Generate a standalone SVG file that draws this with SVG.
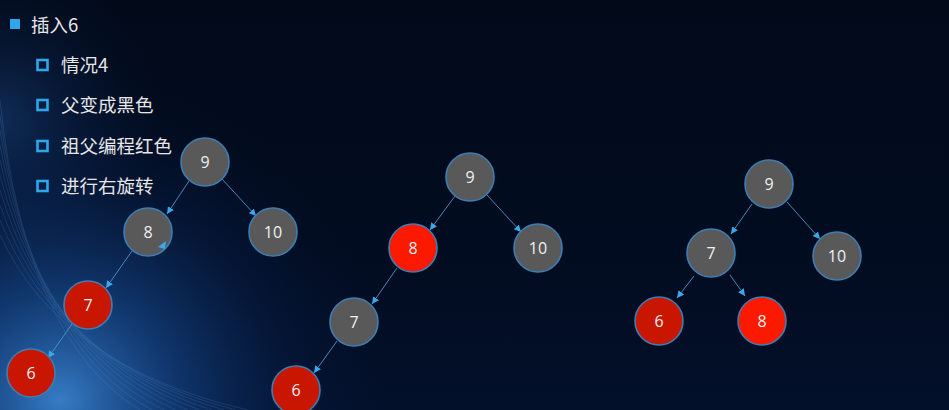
<svg xmlns="http://www.w3.org/2000/svg" width="949" height="410" viewBox="0 0 949 410">
<defs>
<linearGradient id="bg" x1="0" y1="0" x2="0" y2="1">
<stop offset="0" stop-color="#020a1a"/>
<stop offset="0.6" stop-color="#020c20"/>
<stop offset="1" stop-color="#03102a"/>
</linearGradient>
<radialGradient id="glow" cx="60" cy="400" r="330" gradientUnits="userSpaceOnUse">
<stop offset="0" stop-color="#3f8fe0" stop-opacity="0.85"/>
<stop offset="0.35" stop-color="#1c5cb0" stop-opacity="0.5"/>
<stop offset="0.7" stop-color="#0c3070" stop-opacity="0.2"/>
<stop offset="1" stop-color="#061a40" stop-opacity="0"/>
</radialGradient>
<radialGradient id="glow2" cx="0" cy="120" r="160" gradientUnits="userSpaceOnUse">
<stop offset="0" stop-color="#1d4f90" stop-opacity="0.5"/>
<stop offset="1" stop-color="#061a40" stop-opacity="0"/>
</radialGradient>
<marker id="ah" viewBox="0 0 10 10" refX="10" refY="5" markerWidth="7" markerHeight="7" markerUnits="userSpaceOnUse" orient="auto">
<path d="M0,0 L10,5 L0,10 z" fill="#3aa9ec"/>
</marker>
<style>
.edge{stroke:#4f93cc;stroke-width:0.9;fill:none;marker-end:url(#ah)}
.node circle{stroke:#3c7eb4;stroke-width:1.6}
.blk circle{fill:#595959}
.red circle{fill:#c81600}
.red2 circle{fill:#fb1a00}
.node text{font-family:"Open Sans","Liberation Sans",sans-serif;font-size:16px;fill:#f0f0f0;text-anchor:middle}
.t{font-family:"Noto Sans CJK SC","Noto Sans",sans-serif;font-size:18.5px;fill:#e6e6e6}
.sq{fill:none;stroke:#2ea6ec;stroke-width:2.6}
.streak{fill:none;stroke:#7ab8f4;stroke-width:0.8}
</style>
</defs>
<rect width="949" height="410" fill="url(#bg)"/>
<rect width="949" height="410" fill="url(#glow2)"/>
<rect width="949" height="410" fill="url(#glow)"/>
<g opacity="0.18">
<path class="streak" d="M0,100 Q25,340 140,410"/>
<path class="streak" d="M0,115 Q29,343 152,410"/>
<path class="streak" d="M0,130 Q33,346 164,410"/>
<path class="streak" d="M0,145 Q37,349 176,410"/>
<path class="streak" d="M0,160 Q41,352 188,410"/>
<path class="streak" d="M0,175 Q45,355 200,410"/>
<path class="streak" d="M0,190 Q49,358 212,410"/>
<path class="streak" d="M0,205 Q53,361 224,410"/>
<path class="streak" d="M0,220 Q57,364 236,410"/>
<path class="streak" d="M0,235 Q61,367 248,410"/>
</g>

<g id="bullets">
<rect x="10" y="19" width="10" height="10" fill="#2ea6ec"/>
<text class="t" x="31" y="32">插入6</text>
<rect class="sq" x="37.5" y="60" width="10" height="10"/>
<text class="t" x="61" y="72">情况4</text>
<rect class="sq" x="37.5" y="100" width="10" height="10"/>
<text class="t" x="61" y="112">父变成黑色</text>
<rect class="sq" x="37.5" y="141" width="10" height="10"/>
<text class="t" x="61" y="153">祖父编程红色</text>
<rect class="sq" x="37.5" y="181" width="10" height="10"/>
<text class="t" x="61" y="193">进行右旋转</text>
</g>

<g id="connectors">
<line class="edge" x1="189" y1="181" x2="167" y2="214"/>
<line class="edge" x1="222" y1="179" x2="256" y2="216"/>
<line class="edge" x1="132" y1="251" x2="106" y2="288"/>
<line class="edge" x1="72" y1="324" x2="48" y2="358"/>
<line class="edge" x1="455" y1="196" x2="430" y2="230"/>
<line class="edge" x1="487" y1="195" x2="521" y2="232"/>
<line class="edge" x1="397" y1="268" x2="372" y2="304"/>
<line class="edge" x1="337" y1="341" x2="314" y2="373"/>
<line class="edge" x1="752" y1="204" x2="731" y2="234"/>
<line class="edge" x1="787" y1="202" x2="820" y2="239"/>
<line class="edge" x1="694" y1="276" x2="677" y2="298"/>
<line class="edge" x1="730" y1="275" x2="745" y2="296"/>
</g>

<g id="t1-n9" class="node blk"><circle cx="205" cy="162" r="24"/><text x="205" y="168">9</text></g>
<g id="t1-n8" class="node blk"><circle cx="148" cy="232" r="24"/><text x="148" y="238">8</text></g>
<g id="t1-n10" class="node blk"><circle cx="273" cy="232" r="24"/><text x="273" y="238">10</text></g>
<g id="t1-n7" class="node red"><circle cx="88" cy="305" r="24"/><text x="88" y="311">7</text></g>
<g id="t1-n6" class="node red"><circle cx="31" cy="373" r="24"/><text x="31" y="379">6</text></g>
<path d="M158,247 L166,241 L165,249 z" fill="#3aa9ec"/>

<g id="t2-n9" class="node blk"><circle cx="470" cy="177" r="24"/><text x="470" y="183">9</text></g>
<g id="t2-n8" class="node red2"><circle cx="413" cy="248" r="24"/><text x="413" y="254">8</text></g>
<g id="t2-n10" class="node blk"><circle cx="538" cy="248" r="24"/><text x="538" y="254">10</text></g>
<g id="t2-n7" class="node blk"><circle cx="354" cy="322" r="24"/><text x="354" y="328">7</text></g>
<g id="t2-n6" class="node red"><circle cx="296" cy="390" r="24"/><text x="296" y="396">6</text></g>

<g id="t3-n9" class="node blk"><circle cx="769" cy="184" r="24"/><text x="769" y="190">9</text></g>
<g id="t3-n7" class="node blk"><circle cx="711" cy="253" r="24"/><text x="711" y="259">7</text></g>
<g id="t3-n10" class="node blk"><circle cx="837" cy="256" r="24"/><text x="837" y="262">10</text></g>
<g id="t3-n6" class="node red"><circle cx="659" cy="321" r="24"/><text x="659" y="327">6</text></g>
<g id="t3-n8" class="node red2"><circle cx="762" cy="321" r="24"/><text x="762" y="327">8</text></g>
</svg>
